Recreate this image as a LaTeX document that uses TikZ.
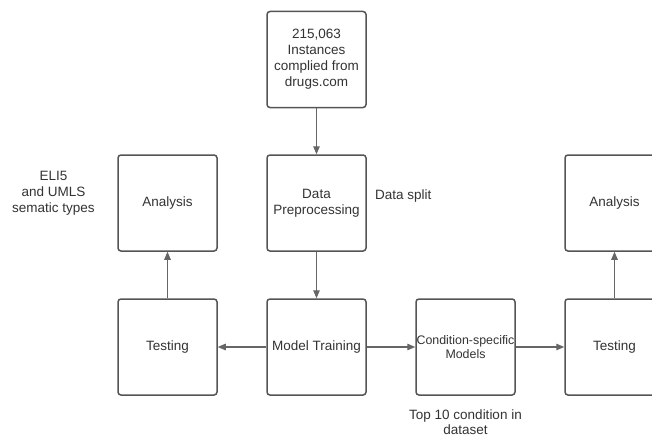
\documentclass[tikz,border=0pt]{standalone}
\usepackage{fontspec}
\setmainfont{Liberation Sans}
\usetikzlibrary{arrows.meta}
\definecolor{boxline}{HTML}{555555}
\definecolor{arrowc}{HTML}{666666}
\definecolor{txt}{HTML}{333333}
\tikzset{
  stepbox/.style={draw=boxline, line width=1.5pt, rounded corners=3pt,
    minimum width=99pt, minimum height=96pt, inner sep=0pt, align=center,
    text=txt, font=\fontsize{13.5}{16}\selectfont},
  condbox/.style={stepbox, font=\fontsize{12.4}{14.5}\selectfont},
  lbl/.style={text=txt, align=center, inner sep=0pt, font=\fontsize{13.5}{16}\selectfont},
  conn/.style={draw=arrowc, line width=1.2pt, -{Triangle[length=8pt,width=6.5pt]}}
}
\begin{document}
\begin{tikzpicture}[x=1pt,y=-1pt]
\useasboundingbox (0,0) rectangle (652,436);
\clip (0,0) rectangle (652,436);
\fill[white] (0,0) rectangle (652,436);
\node[stepbox] (src) at (316.5,59.5) {215,063\\Instances\\complied from\\drugs.com};
\node[stepbox] (prep) at (316.5,203) {Data\\Preprocessing};
\node[stepbox] (anaL) at (167.5,203) {Analysis};
\node[stepbox] (testL) at (167.5,347) {Testing};
\node[stepbox] (train) at (316.5,347) {Model Training};
\node[condbox] (cond) at (465.5,347) {Condition-specific\\Models};
\node[stepbox] (testR) at (614.5,347) {Testing};
\node[stepbox] (anaR) at (614.5,203) {Analysis};
\node[lbl] (eli) at (53.5,193) {ELI5\\and UMLS\\sematic types};
\node[lbl, anchor=west] (split) at (375,196) {Data split};
\node[lbl, font=\fontsize{13.5}{15}\selectfont] (top10) at (465.5,422) {Top 10 condition in\\dataset};
\draw[conn] (src) -- (prep);
\draw[conn] (prep) -- (train);
\draw[conn] (train) -- (testL);
\draw[conn] (train) -- (cond);
\draw[conn] (cond) -- (testR);
\draw[conn] (testL) -- (anaL);
\draw[conn] (testR) -- (anaR);
\end{tikzpicture}
\end{document}
